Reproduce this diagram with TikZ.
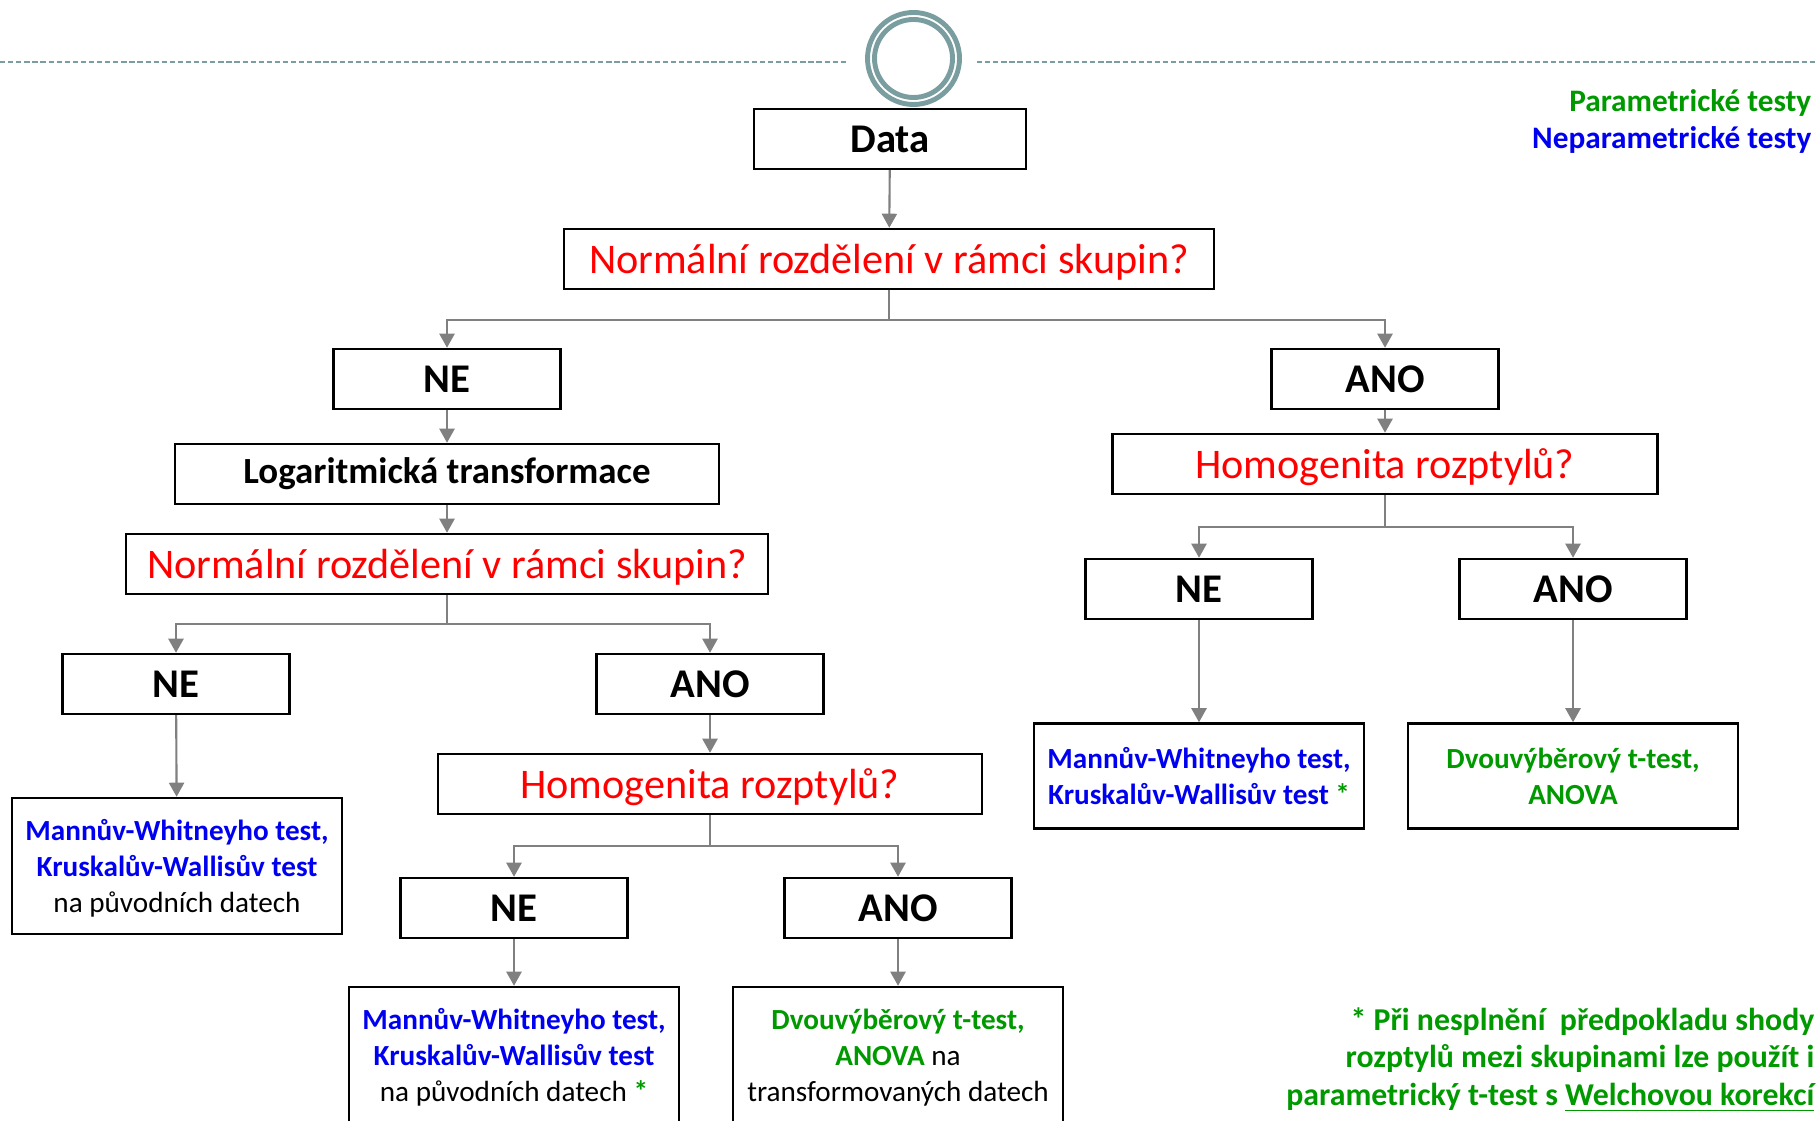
\documentclass[tikz,border=0pt]{standalone}
\usepackage{fontspec}
\setmainfont{Carlito}
\usetikzlibrary{arrows.meta}
\definecolor{qred}{RGB}{255,0,0}
\definecolor{npblue}{RGB}{0,0,240}
\definecolor{pgreen}{RGB}{0,153,0}
\definecolor{ringc}{RGB}{122,158,159}
\definecolor{linec}{RGB}{128,128,128}
\newcommand{\nptest}[1]{\textcolor{npblue}{\bfseries #1}}
\newcommand{\partest}[1]{\textcolor{pgreen}{\bfseries #1}}

\begin{document}
\begin{tikzpicture}[
    box/.style={draw=black,line width=0.7pt,minimum height=0.6cm,minimum width=2.27cm,inner sep=0pt,font=\fontsize{11.6}{14}\selectfont\bfseries},
    ques/.style={box,text=qred,text depth=0pt,font=\fontsize{12}{14}\selectfont},
    res/.style={draw=black,line width=0.7pt,minimum width=3.3cm,inner sep=0pt,align=center,text depth=0pt,font=\fontsize{8.3}{10.3}\selectfont},
    arr/.style={draw=linec,line width=0.6pt,-{Triangle[width=4.3pt,length=4pt]}}
]
\useasboundingbox (0,0) rectangle (18.17,-11.21);

% ring and dashed rule at the top
\draw[ringc,line width=0.4pt,dash pattern=on 1.5pt off 0.8pt] (0,-0.62) -- (8.48,-0.62);
\draw[ringc,line width=0.4pt,dash pattern=on 1.5pt off 0.8pt] (9.77,-0.62) -- (18.17,-0.62);
\draw[ringc,line width=1.4pt] (9.135,-0.585) circle (0.46);
\draw[ringc,line width=1.4pt] (9.135,-0.585) circle (0.39);

% legend
\node[anchor=east,inner sep=0pt,text=pgreen,font=\fontsize{8.9}{10}\selectfont\bfseries] (legpar) at (18.12,-1.025) {Parametrické testy};
\node[anchor=east,inner sep=0pt,text=npblue,font=\fontsize{8.9}{10}\selectfont\bfseries] (legnpar) at (18.12,-1.395) {Neparametrické testy};

% main branch
\node[box,minimum width=2.72cm] (data) at (8.90,-1.39) {Data};
\node[ques,minimum width=6.50cm] (q1) at (8.89,-2.59) {Normální rozdělení v rámci skupin?};
\node[box] (ne1) at (4.47,-3.79) {NE};
\node[box] (ano1) at (13.85,-3.79) {ANO};

% left: transformation
\node[box,minimum width=5.44cm,font=\fontsize{10.5}{12}\selectfont\bfseries] (log) at (4.47,-4.74) {Logaritmická transformace};
\node[ques,minimum width=6.42cm] (q2) at (4.47,-5.64) {Normální rozdělení v rámci skupin?};
\node[box] (ne2) at (1.76,-6.84) {NE};
\node[box] (ano2) at (7.10,-6.84) {ANO};
\node[res,minimum height=1.36cm] (res1) at (1.77,-8.66) {\nptest{Mannův-Whitneyho test,}\\\nptest{Kruskalův-Wallisův test}\\na původních datech};
\node[ques,minimum width=5.44cm] (h2) at (7.10,-7.84) {Homogenita rozptylů?};
\node[box] (ne3) at (5.14,-9.08) {NE};
\node[box] (ano3) at (8.98,-9.08) {ANO};
\node[res,minimum height=1.36cm] (res3) at (5.14,-10.55) {\nptest{Mannův-Whitneyho test,}\\\nptest{Kruskalův-Wallisův test}\\na původních datech \partest{*}};
\node[res,minimum height=1.36cm] (res4) at (8.98,-10.55) {\partest{Dvouvýběrový t-test,}\\\partest{ANOVA} na\\transformovaných datech};

% right: variances
\node[ques,minimum width=5.45cm] (h1) at (13.85,-4.64) {Homogenita rozptylů?};
\node[box] (ne4) at (11.99,-5.89) {NE};
\node[box] (ano4) at (15.73,-5.89) {ANO};
\node[res,minimum height=1.05cm] (res5) at (11.99,-7.76) {\nptest{Mannův-Whitneyho test,}\\\nptest{Kruskalův-Wallisův test} \partest{*}};
\node[res,minimum height=1.05cm] (res6) at (15.73,-7.76) {\partest{Dvouvýběrový t-test,}\\\partest{ANOVA}};

% footnote
\node[anchor=east,inner sep=0pt,align=right,text=pgreen,font=\fontsize{9.05}{10.7}\selectfont\bfseries] (note) at (18.15,-10.60) {* Při nesplnění\ \ předpokladu shody\\rozptylů mezi skupinami lze použít i\\parametrický t-test s \underline{Welchovou korekcí}};

% connectors
\draw (data) edge [arr] (q1);
\draw[arr] (q1.south) -- ++(0,-0.3) -| (ne1.north);
\draw[arr] (q1.south) -- ++(0,-0.3) -| (ano1.north);
\draw (ne1) edge [arr] (log);
\draw (log) edge [arr] (q2);
\draw[arr] (q2.south) -- ++(0,-0.29) -| (ne2.north);
\draw[arr] (q2.south) -- ++(0,-0.29) -| (ano2.north);
\draw (ne2) edge [arr] (res1);
\draw (ano2) edge [arr] (h2);
\draw[arr] (h2.south) -- ++(0,-0.31) -| (ne3.north);
\draw[arr] (h2.south) -- ++(0,-0.31) -| (ano3.north);
\draw (ne3) edge [arr] (res3);
\draw (ano3) edge [arr] (res4);
\draw (ano1) edge [arr] (h1);
\draw[arr] (h1.south) -- ++(0,-0.32) -| (ne4.north);
\draw[arr] (h1.south) -- ++(0,-0.32) -| (ano4.north);
\draw (ne4) edge [arr] (res5);
\draw (ano4) edge [arr] (res6);
\end{tikzpicture}
\end{document}
